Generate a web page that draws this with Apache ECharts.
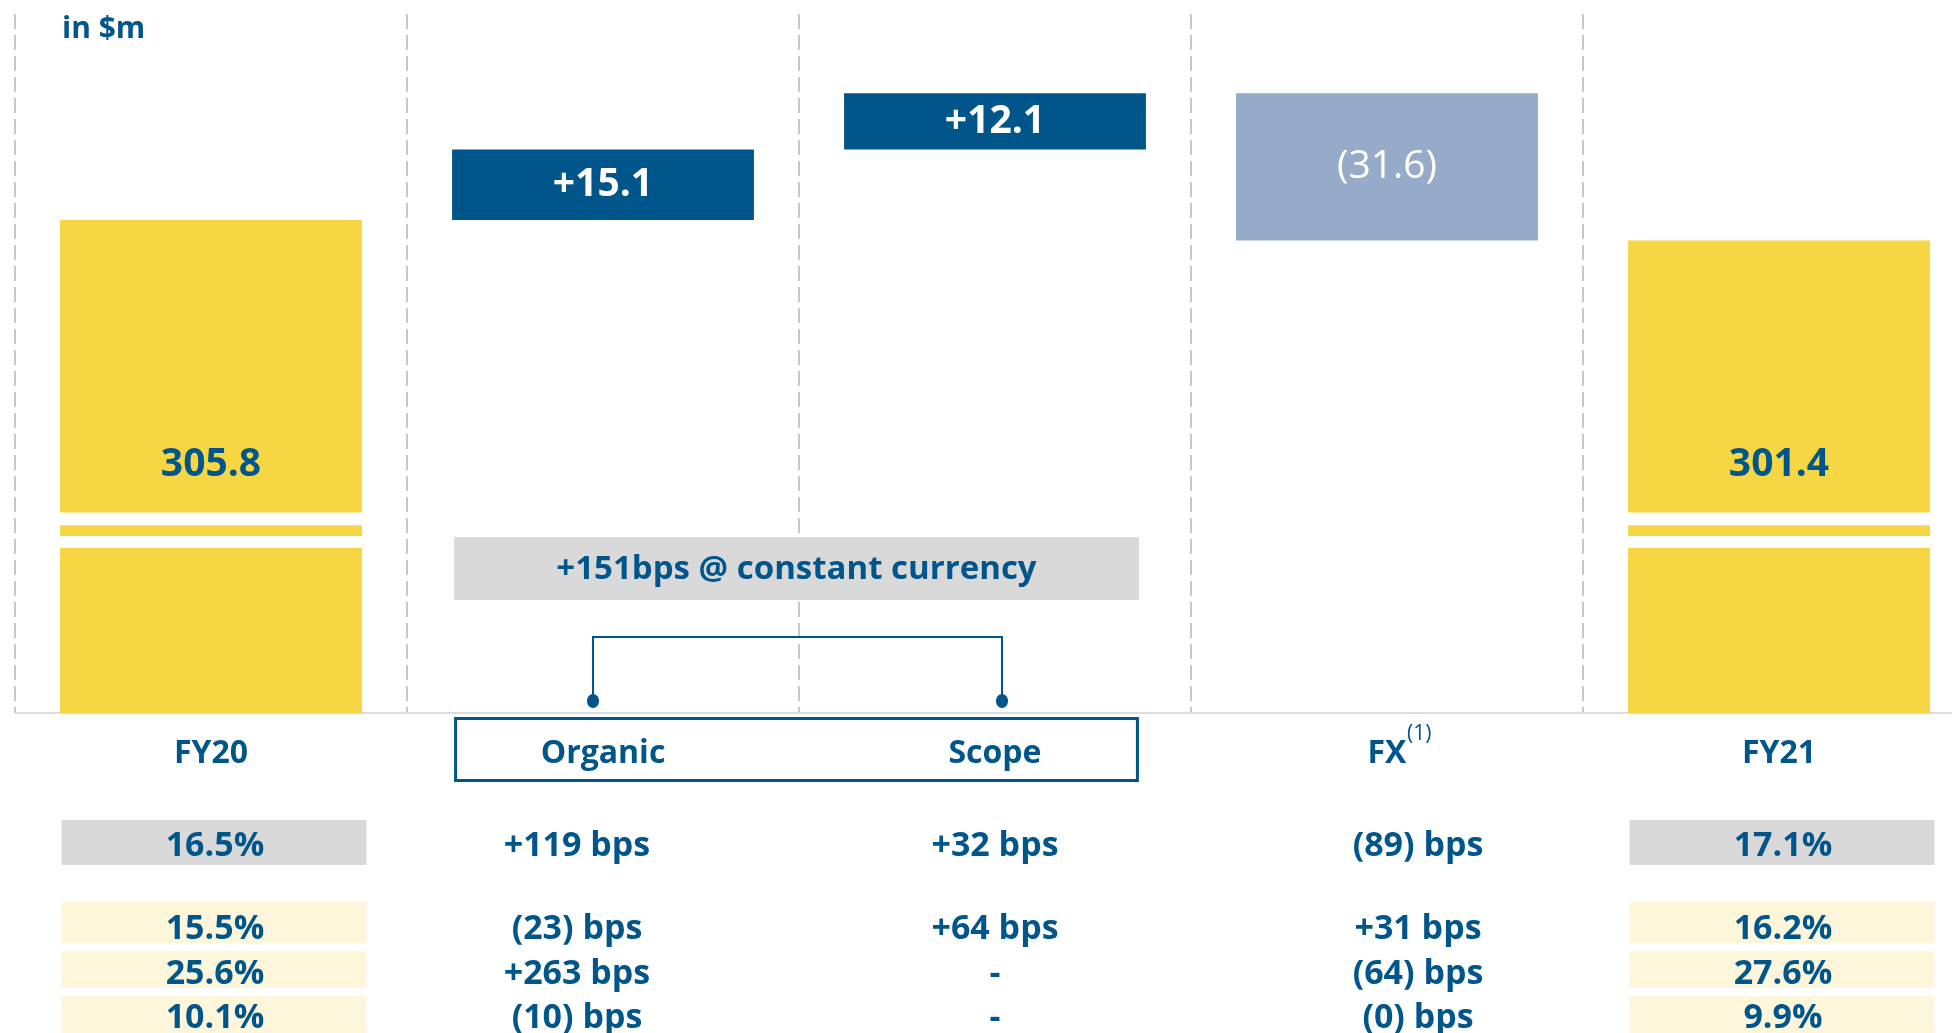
<!DOCTYPE html>
<html>
<head>
<meta charset="utf-8">
<script src="https://cdn.jsdelivr.net/npm/echarts@6/dist/echarts.min.js"></script>
<style>
html,body{margin:0;padding:0;background:#ffffff;}
#chart{width:1952px;height:1033px;}
</style>
</head>
<body>
<div id="chart"></div>
<script>
// ---------- data ----------
const unitLabel = 'in $m';
const categories = ['FY20', 'Organic', 'Scope', 'FX', 'FY21'];
const bridgeValues = [305.8, 15.1, 12.1, -31.6, 301.4];
const barKinds = ['total', 'increase', 'increase', 'decrease', 'total'];
const barLabels = ['305.8', '+15.1', '+12.1', '(31.6)', '301.4'];
const fxFootnote = '(1)';
const constantCurrencyNote = '+151bps @ constant currency';
const marginRow = ['16.5%', '+119 bps', '+32 bps', '(89) bps', '17.1%'];
const segmentRow1 = ['15.5%', '(23) bps', '+64 bps', '+31 bps', '16.2%'];
const segmentRow2 = ['25.6%', '+263 bps', '-', '(64) bps', '27.6%'];
const segmentRow3 = ['10.1%', '(10) bps', '-', '(0) bps', '9.9%'];
const axisBreakBands = [[240.3, 243.0], [235.4, 238.0]];
const yAxisMin = 200;
const yAxisMax = 350;

// ---------- styles ----------
const BLUE = '#00558B';
const YELLOW = '#F6D743';
const FXBLUE = '#96AACA';
const GRAY = '#D9D9D9';
const LIGHTYELLOW = '#FEF6DA';
const FONT = '"Open Sans", "Noto Sans", sans-serif';
const KIND_COLOR = { total: YELLOW, increase: BLUE, decrease: FXBLUE };
const BAR_RATIO = 0.77;

// ---------- waterfall computation ----------
const bases = [];
const sizes = [];
let running = 0;
bridgeValues.forEach((v, i) => {
  if (barKinds[i] === 'total') {
    bases.push(0);
    sizes.push(v);
    running = v;
  } else {
    const start = running;
    running = Math.round((running + v) * 10) / 10;
    bases.push(Math.min(start, running));
    sizes.push(Math.abs(v));
  }
});

const totalIdx = barKinds.map((k, i) => k === 'total' ? i : -1).filter(i => i >= 0);

const chart = echarts.init(document.getElementById('chart'), null, { renderer: 'canvas' });

function renderBreaks(params, api) {
  const idx = api.value(0);
  const cx = api.coord([idx, yAxisMin])[0];
  const w = api.size([1, 0])[0] * BAR_RATIO;
  const children = axisBreakBands.map(([lo, hi]) => {
    const y1 = api.coord([idx, hi])[1];
    const y2 = api.coord([idx, lo])[1];
    return {
      type: 'rect',
      shape: { x: cx - w / 2, y: y1, width: w, height: y2 - y1 },
      style: { fill: '#ffffff' }
    };
  });
  const topBreak = Math.max(...axisBreakBands.map(b => b[1]));
  const yTop = api.coord([idx, topBreak])[1];
  children.push({
    type: 'text',
    x: cx,
    y: yTop - 48,
    style: {
      text: barLabels[idx],
      fill: BLUE,
      font: 'bold 39px ' + FONT,
      align: 'center',
      verticalAlign: 'middle'
    }
  });
  return { type: 'group', children };
}

const option = {
  animation: false,
  backgroundColor: '#ffffff',
  textStyle: { fontFamily: FONT },
  grid: { left: 15, top: 14, width: 1960, height: 699, containLabel: false, outerBoundsMode: 'none' },
  xAxis: {
    type: 'category',
    data: categories,
    boundaryGap: true,
    axisLine: { show: true, lineStyle: { color: '#DCDCDC', width: 2 } },
    axisTick: { show: false },
    axisLabel: {
      interval: 0, color: BLUE, fontSize: 32, fontWeight: 'bold', margin: 25, fontFamily: FONT
    },
    splitLine: { show: true, lineStyle: { color: '#C8C8C8', width: 2, type: [15, 6] } }
  },
  yAxis: {
    type: 'value', min: yAxisMin, max: yAxisMax, show: false,
    splitLine: { show: false }
  },
  series: [
    {
      name: 'base', type: 'bar', stack: 'bridge', barWidth: (BAR_RATIO * 100) + '%',
      data: bases, itemStyle: { color: 'transparent' }, silent: true, label: { show: false }
    },
    {
      name: 'change', type: 'bar', stack: 'bridge', barWidth: (BAR_RATIO * 100) + '%',
      data: sizes.map((s, i) => ({
        value: s,
        itemStyle: { color: KIND_COLOR[barKinds[i]] },
        label: {
          show: barKinds[i] !== 'total',
          formatter: barLabels[i],
          fontWeight: barKinds[i] === 'decrease' ? 'normal' : 'bold'
        }
      })),
      label: { position: 'inside', color: '#ffffff', fontSize: 39, fontFamily: FONT }
    },
    {
      name: 'breaks', type: 'custom', z: 3, silent: true,
      renderItem: renderBreaks,
      data: totalIdx.map(i => [i, bridgeValues[i]])
    }
  ]
};

chart.setOption(option);

// ---------- annotations & table (positioned from the axes) ----------
const cx = categories.map(c => chart.convertToPixel({ xAxisIndex: 0 }, c));
const bw = (cx[1] - cx[0]) * BAR_RATIO;
const axisY = chart.convertToPixel({ yAxisIndex: 0 }, yAxisMin);

const g = [];
function txt(text, x, y, size, weight, color, align) {
  g.push({
    type: 'text', x, y, z: 110,
    style: {
      text, fill: color || BLUE, font: (weight || 'bold') + ' ' + size + 'px ' + FONT,
      align: align || 'center', verticalAlign: 'middle'
    }
  });
}
function box(x, y, w, h, fill) {
  g.push({ type: 'rect', z: 100, shape: { x, y, width: w, height: h }, style: { fill } });
}

// unit label
txt(unitLabel, 62, 29, 30, 'bold', BLUE, 'left');

// FX footnote marker
txt(fxFootnote, cx[3] + 20, axisY + 21, 21, 'normal', BLUE, 'left');

// group box around Organic / Scope
const grpLeft = cx[1] - bw / 2 + 2;
const grpRight = cx[2] + bw / 2 - 7;
g.push({
  type: 'rect', z: 100,
  shape: { x: grpLeft + 1.5, y: axisY + 5.5, width: grpRight - grpLeft - 3, height: 62 },
  style: { fill: 'none', stroke: BLUE, lineWidth: 3 }
});

// constant currency note
box(grpLeft, axisY - 176, grpRight - grpLeft, 63, GRAY);
txt(constantCurrencyNote, (grpLeft + grpRight) / 2, axisY - 143, 33, 'bold');

// bracket
const bL = cx[1] - 10, bR = cx[2] + 7, bTop = axisY - 76, bDot = axisY - 12;
g.push({
  type: 'polyline', z: 100,
  shape: { points: [[bL, bDot], [bL, bTop], [bR, bTop], [bR, bDot]] },
  style: { stroke: BLUE, lineWidth: 2, fill: 'none' }
});
[bL, bR].forEach(x => {
  g.push({ type: 'ellipse', z: 101, shape: { cx: x, cy: bDot, rx: 6, ry: 7 }, style: { fill: BLUE } });
});

// table
const colX = [cx[0] + 4, cx[1] - 26, cx[2], cx[3] + 31, cx[4] + 4];
const rows = [
  { values: marginRow, y: 133, box: [107, 45], fill: GRAY },
  { values: segmentRow1, y: 216, box: [189, 41], fill: LIGHTYELLOW },
  { values: segmentRow2, y: 261, box: [238, 37], fill: LIGHTYELLOW },
  { values: segmentRow3, y: 305, box: [283, 37], fill: LIGHTYELLOW }
];
rows.forEach(r => {
  totalIdx.forEach(i => box(cx[i] - bw / 2 + 1.5, axisY + r.box[0], bw + 3, r.box[1], r.fill));
  r.values.forEach((v, i) => txt(v, colX[i], axisY + r.y, 34, 'bold'));
});

chart.setOption({ graphic: { elements: g } });
</script>
</body>
</html>
